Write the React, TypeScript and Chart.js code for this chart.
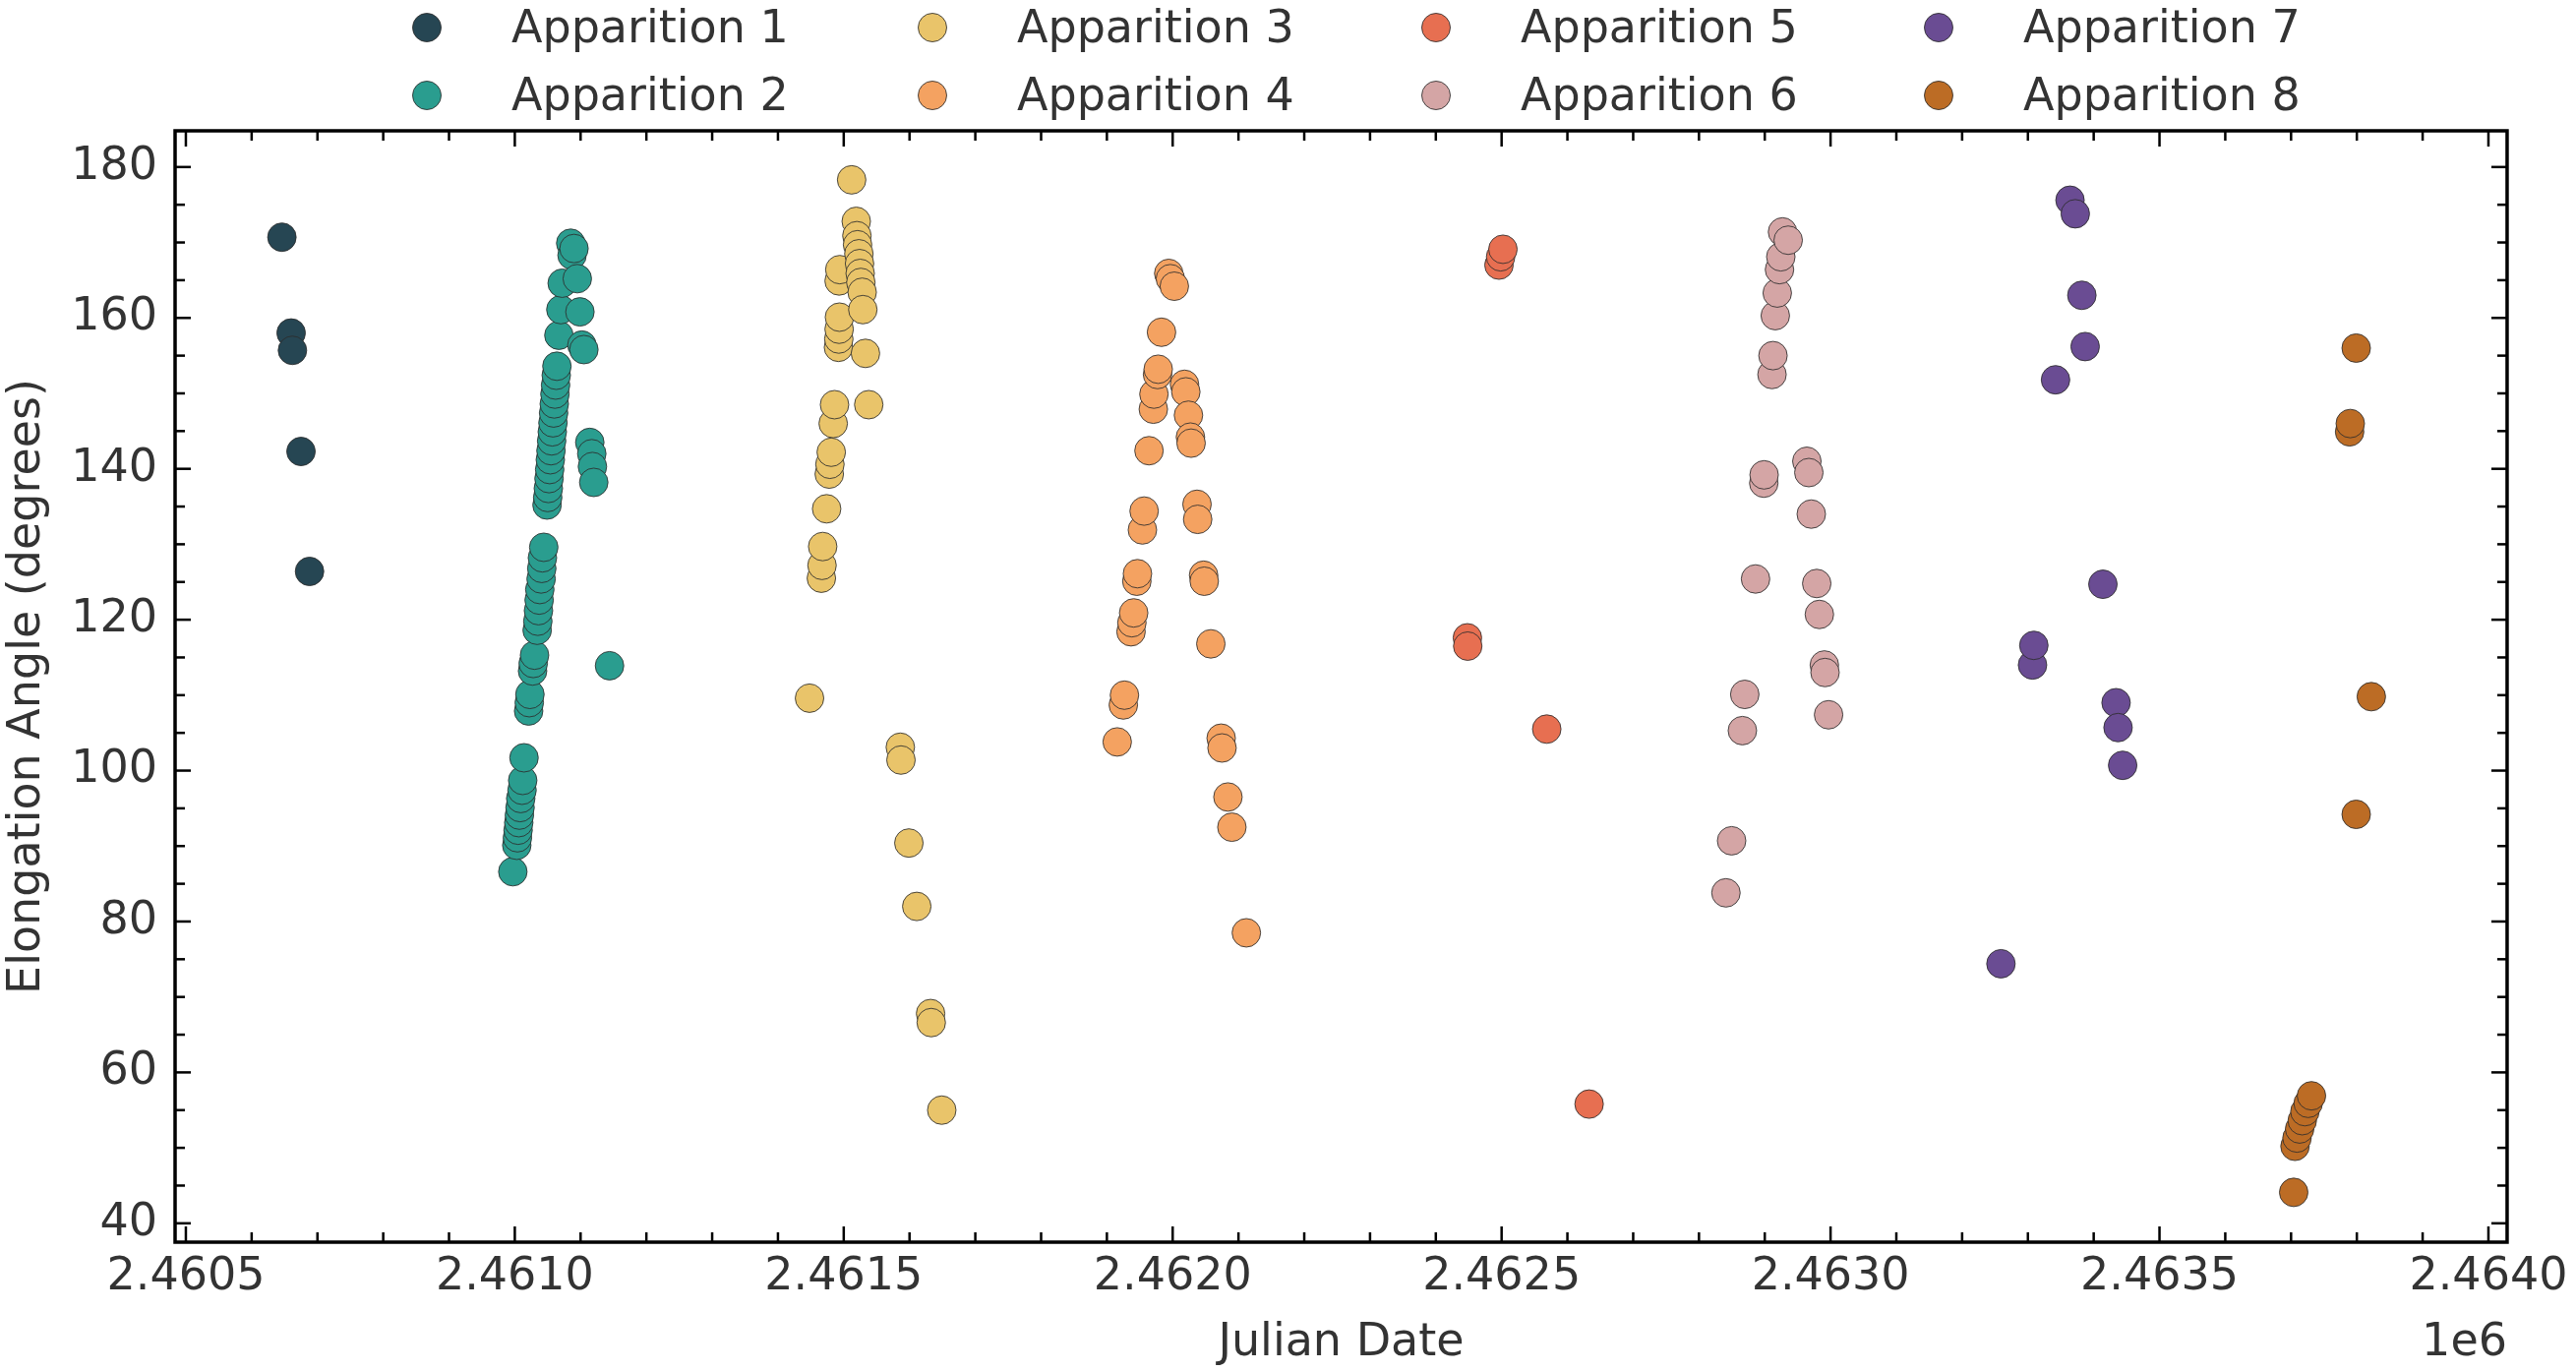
import React, { useEffect, useRef } from 'react';
import { Chart, registerables } from 'chart.js';

Chart.register(...registerables);

// Series names and fill colours
const seriesLabels = [
  'Apparition 1', 'Apparition 2', 'Apparition 3', 'Apparition 4',
  'Apparition 5', 'Apparition 6', 'Apparition 7', 'Apparition 8',
];
const seriesColors = [
  '#264653', '#2a9d8f', '#e9c46a', '#f4a261',
  '#e76f51', '#d4a5a5', '#6a4c93', '#bc6c25',
];

// Julian dates and elongation angles (degrees) per apparition
const app1Jd = [2460646, 2460660, 2460662, 2460675, 2460688];
const app1Elong = [170.7, 158.0, 155.7, 142.3, 126.4];

const app2Jd = [
  2460997, 2461003, 2461004, 2461005, 2461006, 2461007, 2461008, 2461009, 2461011, 2461012,
  2461014, 2461021, 2461022, 2461023, 2461027, 2461028, 2461030, 2461034, 2461035, 2461036,
  2461037, 2461038, 2461040, 2461041, 2461042, 2461044, 2461049, 2461050, 2461051, 2461052,
  2461053, 2461054, 2461055, 2461056, 2461057, 2461058, 2461059, 2461060, 2461061, 2461062,
  2461063, 2461064, 2461067, 2461070, 2461072, 2461085, 2461087, 2461090, 2461095, 2461099,
  2461102, 2461105, 2461114, 2461117, 2461118, 2461120, 2461144,
];
const app2Elong = [
  86.6, 90.1, 91.1, 92.1, 93.1, 94.1, 95.1, 96.3, 97.4, 98.7,
  101.7, 107.9, 109.0, 110.1, 113.2, 114.2, 115.3, 118.6, 119.8, 121.2,
  122.6, 124.0, 125.4, 126.8, 128.2, 129.6, 135.2, 136.2, 137.4, 138.7,
  139.9, 141.2, 142.4, 143.7, 144.9, 146.1, 147.4, 148.6, 149.9, 151.1,
  152.4, 153.6, 157.7, 161.1, 164.6, 169.9, 168.3, 169.2, 165.2, 160.8,
  156.4, 155.8, 143.5, 142.0, 140.3, 138.2, 113.9,
];

const app3Jd = [
  2461448, 2461466, 2461467, 2461468, 2461474, 2461478, 2461479, 2461481, 2461484, 2461486,
  2461492, 2461492.5, 2461493, 2461493.5, 2461493, 2461494, 2461512, 2461519, 2461520, 2461521,
  2461523, 2461524, 2461525, 2461526, 2461528, 2461529, 2461533, 2461538, 2461586, 2461587,
  2461599, 2461611, 2461632, 2461633, 2461649,
];
const app3Elong = [
  109.6, 125.5, 127.2, 129.7, 134.7, 139.3, 140.6, 142.2, 146.0, 148.5,
  156.1, 157.2, 158.5, 160.1, 164.9, 166.4, 178.3, 172.8, 170.9, 169.7,
  168.5, 167.2, 165.9, 164.7, 163.4, 161.1, 155.3, 148.5, 103.1, 101.4,
  90.4, 82.0, 67.8, 66.6, 55.0,
];

const app4Jd = [
  2461915.7, 2461925, 2461926.7, 2461936.7, 2461938, 2461940.7, 2461945.5, 2461946.5, 2461954, 2461956.6,
  2461964, 2461970.6, 2461971.5, 2461977, 2461978, 2461983, 2461994, 2461996.5, 2462002.5, 2462018,
  2462020, 2462024, 2462027, 2462028, 2462037, 2462038, 2462047, 2462048, 2462058, 2462073.7,
  2462075, 2462084, 2462090, 2462112,
];
const app4Elong = [
  103.8, 108.7, 110.0, 118.4, 119.6, 120.9, 125.1, 126.1, 131.9, 134.4,
  142.4, 147.9, 149.9, 152.5, 153.2, 158.1, 165.9, 165.2, 164.2, 151.2,
  150.2, 147.1, 144.2, 143.4, 135.3, 133.3, 125.9, 125.1, 116.8, 104.3,
  103.0, 96.5, 92.5, 78.5,
];

const app5Jd = [2462448, 2462448.5, 2462496, 2462498.5, 2462502, 2462568.6, 2462633];
const app5Elong = [117.6, 116.5, 167.0, 168.1, 169.1, 105.5, 55.8];

const app6Jd = [
  2462841, 2462849.6, 2462866, 2462869.6, 2462886, 2462898.5, 2462899, 2462911, 2462912.5, 2462916,
  2462919, 2462922.4, 2462924.4, 2462927, 2462935.6, 2462964, 2462967, 2462970.7, 2462979, 2462983,
  2462990.6, 2462991.6, 2462997,
];
const app6Elong = [
  83.8, 90.7, 105.3, 110.1, 125.4, 138.1, 139.2, 152.5, 155.0, 160.3,
  163.3, 166.4, 168.1, 171.4, 170.3, 141.0, 139.5, 134.0, 124.8, 120.7,
  114.0, 113.0, 107.4,
];

const app7Jd = [
  2463259, 2463307, 2463309, 2463342, 2463364, 2463372, 2463382, 2463387, 2463414, 2463434,
  2463437, 2463444,
];
const app7Elong = [74.4, 114.0, 116.6, 151.8, 175.6, 173.8, 163.0, 156.2, 124.7, 109.0, 105.7, 100.7];

const app8Jd = [
  2463704, 2463706, 2463709, 2463713, 2463717, 2463721, 2463726, 2463731, 2463789, 2463790,
  2463799, 2463799, 2463822,
];
const app8Elong = [44.1, 50.2, 51.3, 52.5, 53.6, 54.8, 55.9, 56.9, 144.9, 146.0, 94.2, 156.0, 109.8];

const seriesJd = [app1Jd, app2Jd, app3Jd, app4Jd, app5Jd, app6Jd, app7Jd, app8Jd];
const seriesElong = [app1Elong, app2Elong, app3Elong, app4Elong, app5Elong, app6Elong, app7Elong, app8Elong];

// Axes: limits, ticks and labels
const xLimits = [2460483.6, 2464028.4];
const yLimits = [37.5, 184.8];
const xTickValues = [2460500, 2461000, 2461500, 2462000, 2462500, 2463000, 2463500, 2464000];
const xTickLabels = ['2.4605', '2.4610', '2.4615', '2.4620', '2.4625', '2.4630', '2.4635', '2.4640'];
const xOffsetLabel = '1e6';
const yTickValues = [40, 60, 80, 100, 120, 140, 160, 180];
const yTickLabels = ['40', '60', '80', '100', '120', '140', '160', '180'];
const xMinorStep = 100;
const yMinorStep = 5;
const xTitle = 'Julian Date';
const yTitle = 'Elongation Angle (degrees)';

const W = 2619;
const H = 1394;
const FONT = "'DejaVu Sans', sans-serif";
const TEXT = '#333333';
const MARKER_R = 14.5;
const MARKER_EDGE = 'rgba(45,45,45,0.85)';

// Frame, inward ticks, offset text and the two-row legend
const decorPlugin = {
  id: 'decor',
  afterDraw(chart: any) {
    const { ctx, chartArea: a, scales } = chart;
    const xs = scales.x;
    const ys = scales.y;
    ctx.save();
    ctx.strokeStyle = '#000';
    ctx.lineCap = 'butt';
    ctx.lineWidth = 2.5;
    const seg = (x1: number, y1: number, x2: number, y2: number) => {
      ctx.beginPath();
      ctx.moveTo(x1, y1);
      ctx.lineTo(x2, y2);
      ctx.stroke();
    };
    const xMajor = xTickValues[1] - xTickValues[0];
    for (let v = Math.ceil(xs.min / xMinorStep) * xMinorStep; v <= xs.max; v += xMinorStep) {
      const px = xs.getPixelForValue(v);
      const len = (v - xTickValues[0]) % xMajor === 0 ? 16 : 10;
      seg(px, a.bottom, px, a.bottom - len);
      seg(px, a.top, px, a.top + len);
    }
    const yMajor = yTickValues[1] - yTickValues[0];
    for (let v = Math.ceil(ys.min / yMinorStep) * yMinorStep; v <= ys.max; v += yMinorStep) {
      const py = ys.getPixelForValue(v);
      const len = (v - yTickValues[0]) % yMajor === 0 ? 16 : 10;
      seg(a.left, py, a.left + len, py);
      seg(a.right, py, a.right - len, py);
    }
    ctx.lineWidth = 3.5;
    ctx.strokeRect(a.left, a.top, a.right - a.left, a.bottom - a.top);

    ctx.font = `46px ${FONT}`;
    ctx.fillStyle = TEXT;
    ctx.textAlign = 'right';
    ctx.textBaseline = 'middle';
    ctx.fillText(xOffsetLabel, a.right, H - 27.6);

    const colX = [434, 948, 1460, 1971];
    const rowY = [28, 97];
    ctx.textAlign = 'left';
    ctx.textBaseline = 'alphabetic';
    seriesLabels.forEach((label, i) => {
      const cx = colX[Math.floor(i / 2)];
      const cy = rowY[i % 2];
      ctx.beginPath();
      ctx.arc(cx, cy, MARKER_R, 0, Math.PI * 2);
      ctx.fillStyle = seriesColors[i];
      ctx.fill();
      ctx.lineWidth = 1;
      ctx.strokeStyle = MARKER_EDGE;
      ctx.stroke();
      ctx.fillStyle = TEXT;
      ctx.fillText(label, cx + 86, cy + 15);
    });
    ctx.restore();
  },
};

export default function App() {
  const ref = useRef<HTMLCanvasElement | null>(null);

  useEffect(() => {
    if (!ref.current) return;
    const font = { family: FONT, size: 46, lineHeight: 1.2 };
    const chart = new Chart(ref.current, {
      type: 'scatter',
      data: {
        datasets: seriesLabels.map((label, i) => ({
          label,
          data: seriesJd[i].map((x, j) => ({ x, y: seriesElong[i][j] })),
          backgroundColor: seriesColors[i],
          borderColor: MARKER_EDGE,
          borderWidth: 1,
          pointRadius: MARKER_R,
          pointHoverRadius: MARKER_R,
          order: seriesLabels.length - 1 - i,
        })),
      },
      options: {
        responsive: false,
        animation: false,
        devicePixelRatio: 1,
        events: [],
        layout: { padding: { top: 133, right: 70, bottom: 0, left: 0 } },
        plugins: {
          legend: { display: false },
          tooltip: { enabled: false },
        },
        scales: {
          x: {
            type: 'linear',
            min: xLimits[0],
            max: xLimits[1],
            afterBuildTicks: (s: any) => {
              s.ticks = xTickValues.map((value) => ({ value }));
            },
            afterFit: (s: any) => {
              s.height = H - 1263;
            },
            ticks: {
              callback: (_v: any, i: number) => xTickLabels[i],
              font,
              color: TEXT,
              padding: 8,
              maxRotation: 0,
              autoSkip: false,
            },
            grid: { display: false, drawTicks: false },
            border: { display: false },
            title: { display: true, text: xTitle, font, color: TEXT, padding: 0 },
          },
          y: {
            type: 'linear',
            min: yLimits[0],
            max: yLimits[1],
            afterBuildTicks: (s: any) => {
              s.ticks = yTickValues.map((value) => ({ value }));
            },
            afterFit: (s: any) => {
              s.width = 178;
            },
            ticks: {
              callback: (_v: any, i: number) => yTickLabels[i],
              font,
              color: TEXT,
              padding: 18,
              autoSkip: false,
            },
            grid: { display: false, drawTicks: false },
            border: { display: false },
            title: { display: true, text: yTitle, font, color: TEXT, padding: 0 },
          },
        },
      },
      plugins: [decorPlugin],
    } as any);
    return () => chart.destroy();
  }, []);

  return (
    <div style={{ position: 'fixed', left: 0, top: 0, width: W, height: H, background: '#fff' }}>
      <canvas ref={ref} width={W} height={H} style={{ display: 'block' }} />
    </div>
  );
}
